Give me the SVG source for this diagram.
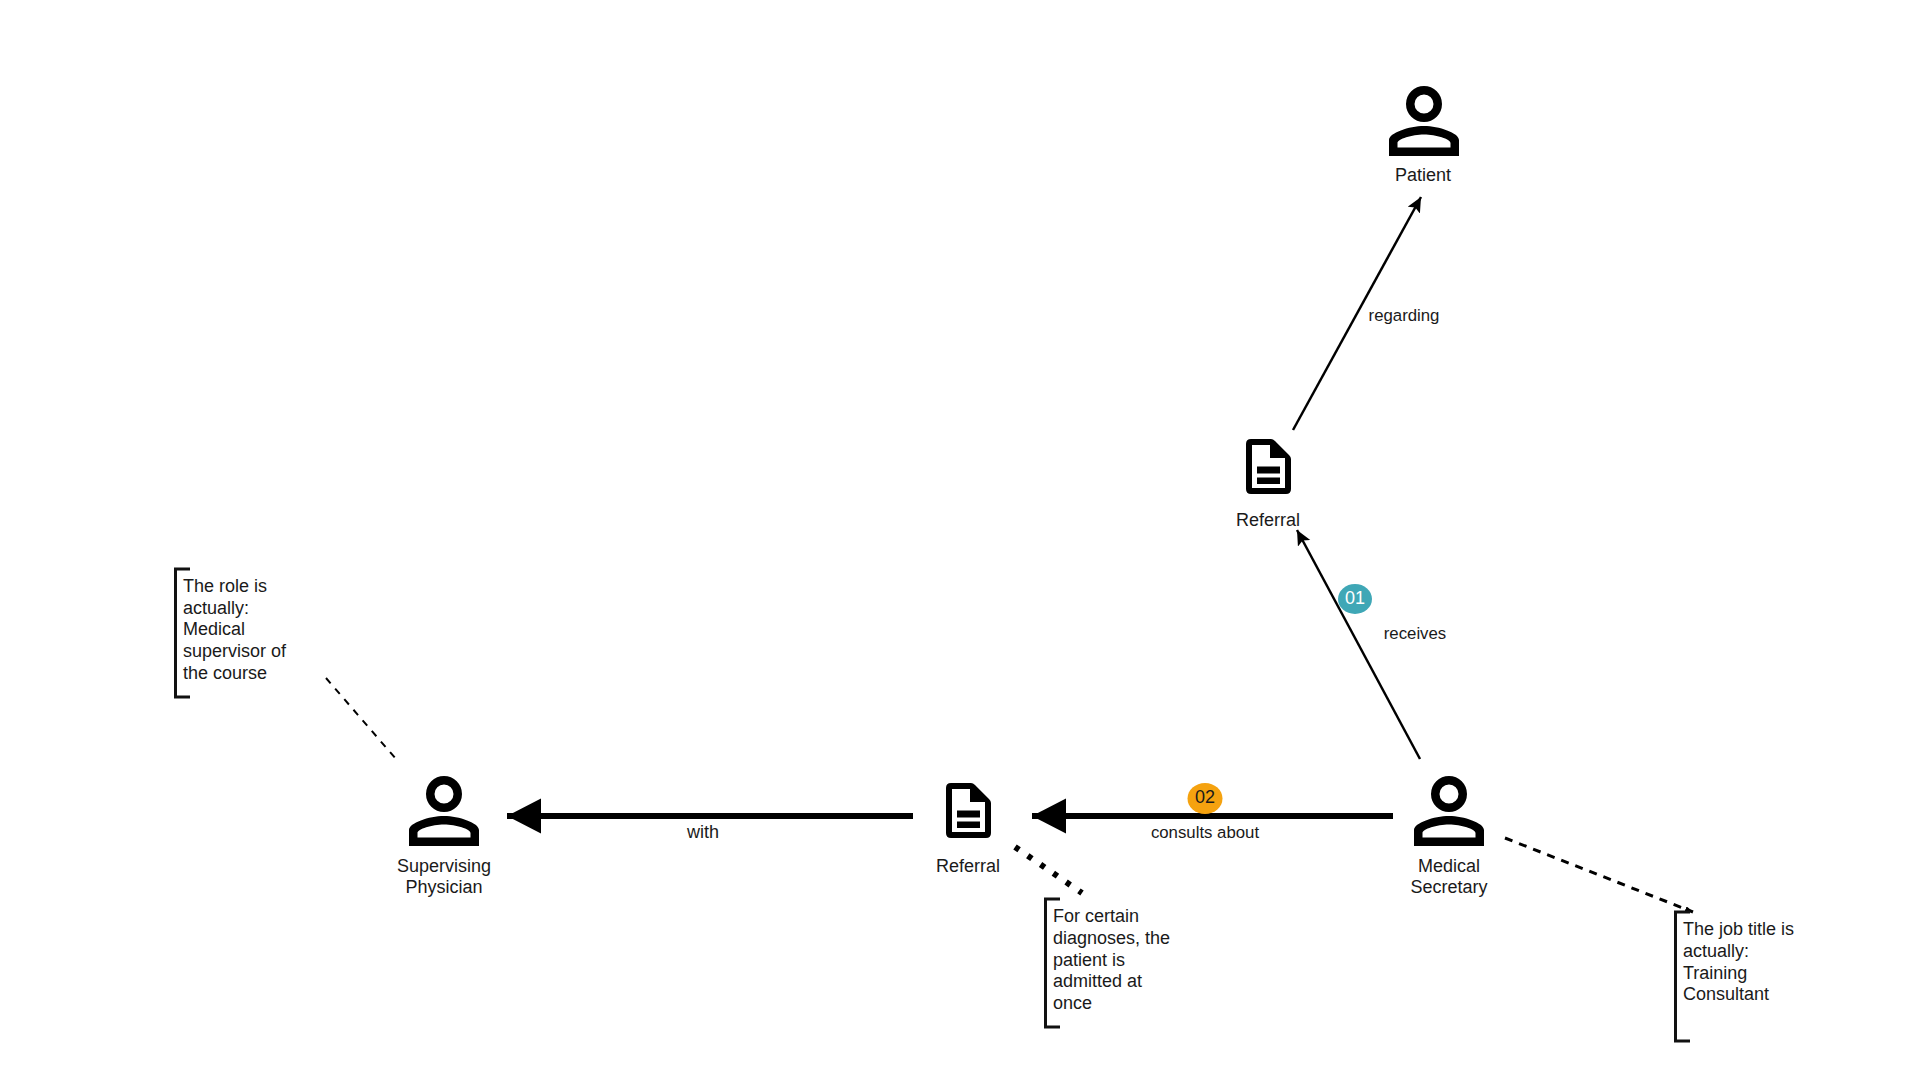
<svg xmlns="http://www.w3.org/2000/svg" width="1920" height="1080" viewBox="0 0 1920 1080">
  <style>
    text { font-family: "Liberation Sans", Arial, sans-serif; font-size: 18px; fill: #1a1a1a; }
    .c { text-anchor: middle; }
    .edge { font-size: 16.800px; }
    .icon { fill: #000; fill-rule: evenodd; }
    .bracket { fill: none; stroke: #111; stroke-width: 3; }
    .thin { fill: none; stroke: #000; stroke-width: 2.500; }
    .thick { fill: none; stroke: #000; stroke-width: 6; }
  </style>
  <defs>
    <path id="person" class="icon" d="M0,-18 A18,18 0 1 1 0,18 A18,18 0 1 1 0,-18 Z M0,-9.500 A9.500,9.500 0 1 0 0,9.500 A9.500,9.500 0 1 0 0,-9.500 Z M-35,52 V36 C-35,29 -15,22 0,22 C15,22 35,29 35,36 V52 Z M-26.500,43.500 H26.500 V39 C26.500,35 12,30.500 0,30.500 C-12,30.500 -26.500,35 -26.500,39 Z"/>
    <path id="doc" class="icon" d="M-17,0 H3 Q5,0 7,2 L21,16 Q23,18 23,20 V50 Q23,55 18,55 H-17 Q-22,55 -22,50 V5 Q-22,0 -17,0 Z M-16,6 V49 H17 V19 H2 V6 Z M-11,27.500 H12 V34.500 H-11 Z M-11,38.500 H12 V45 H-11 Z"/>
    <marker id="headS" markerUnits="userSpaceOnUse" markerWidth="18" markerHeight="16" refX="15" refY="7" orient="auto">
      <path d="M0,0 L15,7 L0,14 L3,7 Z" fill="#000"/>
    </marker>
    <marker id="headL" markerUnits="userSpaceOnUse" markerWidth="36" markerHeight="36" refX="34" refY="17.500" orient="auto">
      <path d="M0,0 L34,17.500 L0,35 Z" fill="#000"/>
    </marker>
    <marker id="headD" markerUnits="userSpaceOnUse" markerWidth="10" markerHeight="8" refX="8" refY="3" orient="auto">
      <path d="M0,0 L8,3 L0,6 Z" fill="#000"/>
    </marker>
  </defs>
  <rect width="1920" height="1080" fill="#fff"/>

  <g id="connectors">
    <line class="thin" x1="1293" y1="430" x2="1421" y2="197" marker-end="url(#headS)"/>
    <line class="thin" x1="1420" y1="759" x2="1297" y2="530" marker-end="url(#headS)"/>
    <line class="thick" x1="1393" y1="816" x2="1032" y2="816" marker-end="url(#headL)"/>
    <line class="thick" x1="913" y1="816" x2="507" y2="816" marker-end="url(#headL)"/>
    <line x1="1015" y1="847" x2="1082" y2="893" fill="none" stroke="#000" stroke-width="6" stroke-dasharray="5 10.500"/>
    <line x1="1505" y1="838" x2="1693" y2="912" fill="none" stroke="#000" stroke-width="3" stroke-dasharray="8 7.100" marker-end="url(#headD)"/>
    <line x1="326" y1="678" x2="396" y2="759" fill="none" stroke="#000" stroke-width="2" stroke-dasharray="7 7"/>
  </g>

  <g id="node-patient">
    <use href="#person" x="1424" y="104"/>
    <text class="c" x="1423" y="181">Patient</text>
  </g>
  <g id="node-referral-top">
    <use href="#doc" x="1268" y="439"/>
    <text class="c" x="1268" y="526">Referral</text>
  </g>
  <g id="node-secretary">
    <use href="#person" x="1449" y="794"/>
    <text class="c" x="1449" y="872">Medical</text>
    <text class="c" x="1449" y="893">Secretary</text>
  </g>
  <g id="node-referral-bottom">
    <use href="#doc" x="968" y="783"/>
    <text class="c" x="968" y="872">Referral</text>
  </g>
  <g id="node-physician">
    <use href="#person" x="444" y="794"/>
    <text class="c" x="444" y="872">Supervising</text>
    <text class="c" x="444" y="893">Physician</text>
  </g>

  <g id="label-regarding"><text class="c edge" x="1404" y="321">regarding</text></g>
  <g id="label-receives"><text class="c edge" x="1415" y="639">receives</text></g>
  <g id="label-with"><text class="c" x="703" y="838">with</text></g>
  <g id="label-consults"><text class="c edge" x="1205" y="838">consults about</text></g>

  <g id="badge-01">
    <ellipse cx="1355" cy="599" rx="17" ry="15" fill="#3fa7b6"/>
    <text class="c" x="1355" y="604" style="fill:#fff">01</text>
  </g>
  <g id="badge-02">
    <ellipse cx="1205" cy="798.500" rx="17.500" ry="15.500" fill="#f5a20f"/>
    <text class="c" x="1205" y="803">02</text>
  </g>

  <g id="note-role">
    <path class="bracket" d="M190,569 H175.500 V697 H190"/>
    <text x="183" y="592">The role is</text>
    <text x="183" y="613.500">actually:</text>
    <text x="183" y="635">Medical</text>
    <text x="183" y="657">supervisor of</text>
    <text x="183" y="678.500">the course</text>
  </g>
  <g id="note-diagnoses">
    <path class="bracket" d="M1060,899 H1045.500 V1027 H1060"/>
    <text x="1053" y="922">For certain</text>
    <text x="1053" y="944">diagnoses, the</text>
    <text x="1053" y="965.500">patient is</text>
    <text x="1053" y="987">admitted at</text>
    <text x="1053" y="1008.500">once</text>
  </g>
  <g id="note-job">
    <path class="bracket" d="M1690,912 H1675.500 V1041 H1690"/>
    <text x="1683" y="935">The job title is</text>
    <text x="1683" y="957">actually:</text>
    <text x="1683" y="978.500">Training</text>
    <text x="1683" y="1000">Consultant</text>
  </g>
</svg>
